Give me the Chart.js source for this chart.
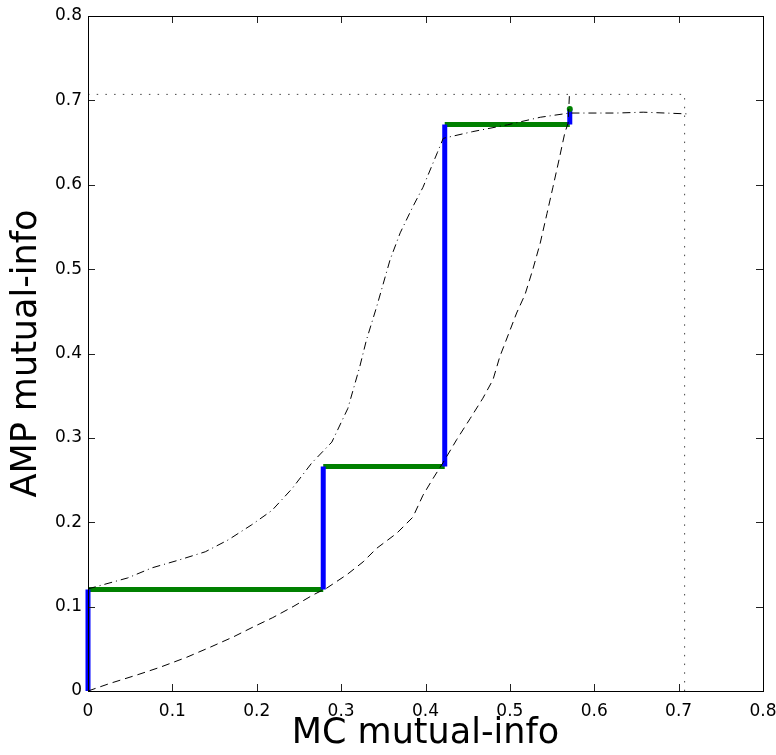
<!DOCTYPE html>
<html>
<head>
<meta charset="utf-8">
<script src="https://cdn.jsdelivr.net/npm/chart.js@4.4.0/dist/chart.umd.min.js"></script>
<style>
  body { margin: 0; background: #fff; }
  canvas { display: block; }
</style>
</head>
<body>
<canvas id="miChart" width="776" height="755"></canvas>
<script>
// tick labels (same on both axes)
const tickValues = [0, 0.1, 0.2, 0.3, 0.4, 0.5, 0.6, 0.7, 0.8];
const tickLabels = ['0', '0.1', '0.2', '0.3', '0.4', '0.5', '0.6', '0.7', '0.8'];

// staircase corners (blue verticals, green horizontals)
const stepX = [0, 0.2788, 0.4228, 0.5710];
const stepY = [0, 0.1203, 0.2660, 0.6714, 0.6897];

// upper dash-dot curve
const upperX = [0, 0.047, 0.076, 0.107, 0.139, 0.166, 0.194, 0.218, 0.242, 0.265, 0.289, 0.308, 0.322, 0.330,
                0.342, 0.358, 0.370, 0.385, 0.397, 0.414, 0.421, 0.456, 0.497, 0.536, 0.571, 0.627, 0.658, 0.710];
const upperY = [0.121, 0.134, 0.146, 0.155, 0.165, 0.179, 0.197, 0.214, 0.240, 0.270, 0.295, 0.335, 0.384, 0.416,
                0.455, 0.511, 0.543, 0.574, 0.597, 0.638, 0.655, 0.663, 0.671, 0.680, 0.685, 0.685, 0.686, 0.684];

// lower dashed curve
const lowerX = [0, 0.026, 0.058, 0.085, 0.117, 0.145, 0.172, 0.196, 0.219, 0.243, 0.267, 0.283, 0.307, 0.326,
                0.342, 0.366, 0.385, 0.397, 0.409, 0.421, 0.437, 0.453, 0.468, 0.480, 0.488, 0.498, 0.508, 0.518,
                0.527, 0.536, 0.544, 0.551, 0.559, 0.565, 0.569, 0.5705];
const lowerY = [0, 0.009, 0.019, 0.028, 0.040, 0.052, 0.064, 0.076, 0.087, 0.100, 0.114, 0.122, 0.138, 0.153,
                0.169, 0.187, 0.206, 0.232, 0.252, 0.271, 0.298, 0.323, 0.347, 0.369, 0.396, 0.422, 0.448, 0.470,
                0.499, 0.531, 0.566, 0.597, 0.633, 0.661, 0.673, 0.705];

// dotted reference level
const refLevel = 0.7071;

function toPoints(xs, ys) {
    return xs.map((x, i) => ({ x: x, y: ys[i] }));
}

const bluePts = [];
for (let i = 0; i < 4; i++) {
    bluePts.push({ x: stepX[i], y: stepY[i] }, { x: stepX[i], y: stepY[i + 1] }, { x: stepX[i], y: null });
}
const greenPts = [];
for (let i = 0; i < 3; i++) {
    greenPts.push({ x: stepX[i], y: stepY[i + 1] }, { x: stepX[i + 1], y: stepY[i + 1] }, { x: stepX[i + 1], y: null });
}

// box with inward ticks on all four sides, like the original figure
const boxPlugin = {
    id: 'boxTicks',
    afterDatasetsDraw(chart) {
        const { ctx, chartArea: a, scales } = chart;
        const len = 7;
        ctx.save();
        ctx.strokeStyle = '#222';
        ctx.lineWidth = 1;
        ctx.beginPath();
        tickValues.forEach(v => {
            const px = Math.round(scales.x.getPixelForValue(v)) + 0.5;
            ctx.moveTo(px, a.bottom); ctx.lineTo(px, a.bottom - len);
            ctx.moveTo(px, a.top); ctx.lineTo(px, a.top + len);
            const py = Math.round(scales.y.getPixelForValue(v)) + 0.5;
            ctx.moveTo(a.left, py); ctx.lineTo(a.left + len, py);
            ctx.moveTo(a.right, py); ctx.lineTo(a.right - len, py);
        });
        ctx.stroke();
        ctx.strokeStyle = '#000';
        ctx.strokeRect(Math.round(a.left) + 0.5, Math.round(a.top) + 0.5,
                       Math.round(a.right - a.left), Math.round(a.bottom - a.top));
        ctx.restore();
    }
};

const ctx = document.getElementById('miChart').getContext('2d');

new Chart(ctx, {
    type: 'line',
    data: {
        datasets: [
            {   // dash-dot curve
                data: toPoints(upperX, upperY),
                borderColor: '#000',
                borderWidth: 1,
                borderDash: [8, 4, 1, 4],
                pointRadius: 0,
                tension: 0
            },
            {   // dashed curve
                data: toPoints(lowerX, lowerY),
                borderColor: '#000',
                borderWidth: 1,
                borderDash: [8, 5],
                pointRadius: 0,
                tension: 0
            },
            {   // end marker
                data: [{ x: stepX[3], y: stepY[4] }],
                showLine: false,
                pointRadius: 3,
                pointBackgroundColor: '#008000',
                pointBorderColor: '#008000',
                pointBorderWidth: 0,
                clip: false
            },
            {
                data: bluePts,
                borderColor: '#0000ff',
                borderWidth: 5,
                pointRadius: 0,
                spanGaps: false,
                clip: false
            },
            {
                data: greenPts,
                borderColor: '#008000',
                borderWidth: 5,
                pointRadius: 0,
                spanGaps: false,
                clip: false
            },
            {   // dotted box at the reference level
                data: [{ x: 0, y: refLevel }, { x: refLevel, y: refLevel }, { x: refLevel, y: 0 }],
                borderColor: '#444',
                borderWidth: 1,
                borderDash: [1.5, 7.2],
                pointRadius: 0
            }
        ]
    },
    options: {
        responsive: false,
        animation: false,
        devicePixelRatio: 1,
        layout: { padding: { top: 16, right: 13, left: 0, bottom: 0 } },
        plugins: {
            legend: { display: false },
            tooltip: { enabled: false }
        },
        scales: {
            x: {
                type: 'linear',
                min: 0,
                max: 0.8,
                afterFit: s => { s.height = 64; s.paddingLeft = 0; s.paddingRight = 0; },
                afterBuildTicks: s => { s.ticks = tickValues.map(v => ({ value: v })); },
                grid: { display: false, drawTicks: false },
                border: { display: false },
                ticks: {
                    padding: 10,
                    color: '#000',
                    font: { family: 'DejaVu Sans', size: 17 },
                    callback: (v, i) => tickLabels[i]
                },
                title: {
                    display: true,
                    text: 'MC mutual-info',
                    color: '#000',
                    font: { family: 'DejaVu Sans', size: 35 },
                    padding: 0
                }
            },
            y: {
                type: 'linear',
                min: 0,
                max: 0.8,
                afterFit: s => { s.width = 88; s.paddingTop = 0; s.paddingBottom = 0; },
                afterBuildTicks: s => { s.ticks = tickValues.map(v => ({ value: v })); },
                grid: { display: false, drawTicks: false },
                border: { display: false },
                ticks: {
                    padding: 6,
                    color: '#000',
                    font: { family: 'DejaVu Sans', size: 17 },
                    callback: (v, i) => tickLabels[i]
                },
                title: {
                    display: true,
                    text: 'AMP mutual-info',
                    color: '#000',
                    font: { family: 'DejaVu Sans', size: 35 },
                    padding: { top: 6, bottom: 0 }
                }
            }
        }
    },
    plugins: [boxPlugin]
});
</script>
</body>
</html>
